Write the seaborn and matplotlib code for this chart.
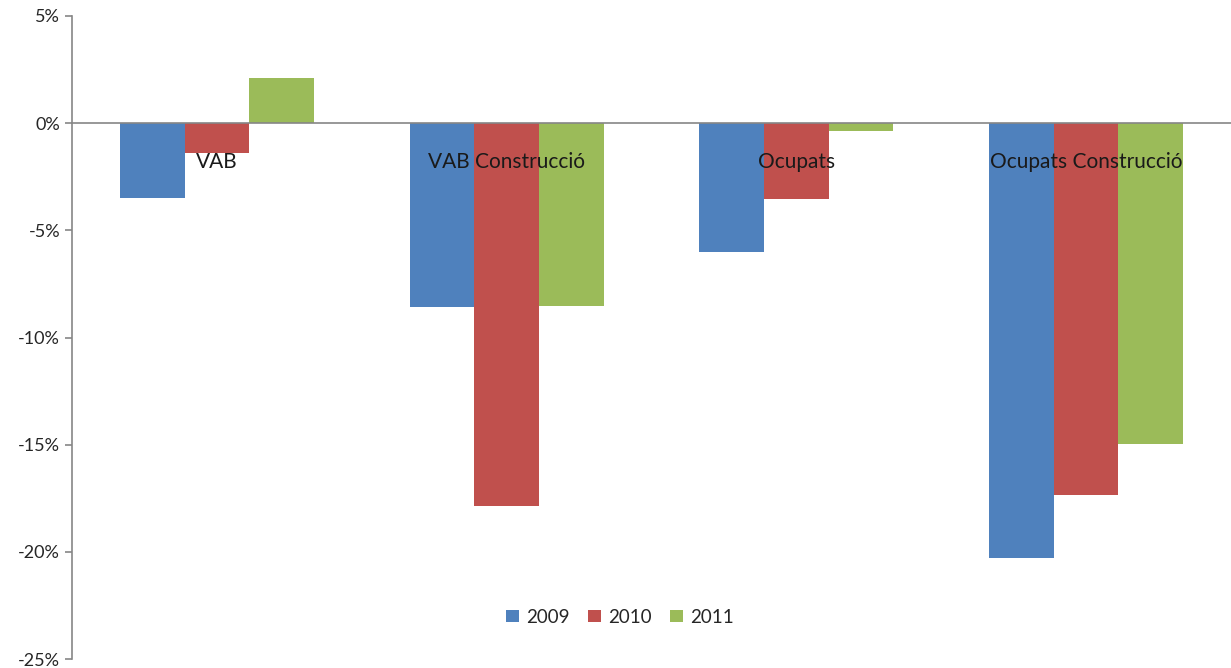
import numpy as np
import pandas as pd
import matplotlib
matplotlib.use('Agg')
import matplotlib.pyplot as plt
import seaborn as sns

# ─── Data ─────────────────────────────────────────────────────────────────────
categories = ['VAB', 'VAB Construcció', 'Ocupats', 'Ocupats Construcció']
years      = ['2009', '2010', '2011']
vals_2009  = [-3.5, -8.6, -6.0, -20.3]
vals_2010  = [-1.4, -17.85, -3.55, -17.35]
vals_2011  = [2.1, -8.55, -0.35, -14.95]
y_ticks    = [-25, -20, -15, -10, -5, 0, 5]
colors     = ['#4F81BD', '#C0504D', '#9BBB59']

df = pd.DataFrame({
    'cat':   categories * 3,
    'year':  [y for y in years for _ in categories],
    'value': vals_2009 + vals_2010 + vals_2011,
})

sns.set_style('white')
plt.rcParams['font.family'] = ['Lato', 'DejaVu Sans']
plt.rcParams['axes.unicode_minus'] = False

fig = plt.figure(figsize=(12.31, 6.68), dpi=100)
ax  = fig.add_axes([72/1231, 1 - 659/668, 1 - 72/1231, (659 - 16)/668])

sns.barplot(data=df, x='cat', y='value', hue='year', order=categories,
            hue_order=years, palette=colors, saturation=1, width=0.67,
            gap=0, ax=ax, errorbar=None, linewidth=0)

ax.set_ylim(-25, 5)
ax.set_xlim(-0.5, 3.5)
ax.set_yticks(y_ticks)
ax.set_yticklabels([f'{v}%' for v in y_ticks], fontsize=13, color='#262626')
ax.set_xlabel(''); ax.set_ylabel('')

for s in ['top', 'right']:
    ax.spines[s].set_visible(False)
ax.spines['bottom'].set_position(('data', 0))
for s in ['left', 'bottom']:
    ax.spines[s].set_color('#868686')
    ax.spines[s].set_linewidth(1.2)

# category separators as major ticks, names as minor tick labels
ax.set_xticks([-0.5, 0.5, 1.5, 2.5, 3.5], minor=False)
ax.set_xticklabels([])
ax.set_xticks([0, 1, 2, 3], minor=True)
ax.set_xticklabels(categories, minor=True, fontsize=15, color='#1a1a1a')
ax.tick_params(axis='x', which='major', direction='out', length=6,
               color='#868686', width=1.2)
ax.tick_params(axis='x', which='minor', length=0, pad=21)
ax.tick_params(axis='y', direction='out', length=5, color='#868686',
               width=1.2, left=True)
ax.set_axisbelow(False)

ax.legend(loc='center', bbox_to_anchor=(0.473, 0.065), ncol=3, frameon=False,
          fontsize=13.5, handlelength=0.65, handleheight=0.65, handletextpad=0.4,
          columnspacing=1.0)

fig.savefig('out.png', dpi=100)
